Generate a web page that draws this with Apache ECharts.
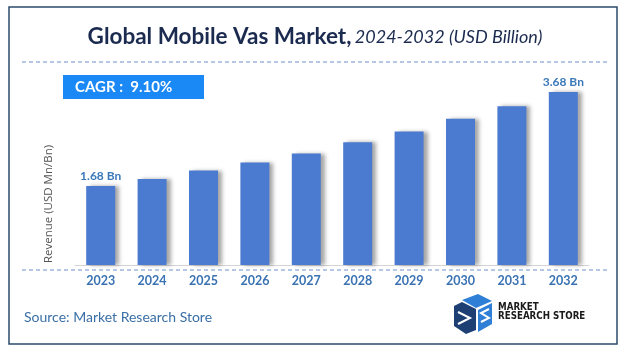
<!DOCTYPE html>
<html>
<head>
<meta charset="utf-8">
<script src="https://cdn.jsdelivr.net/npm/echarts@6/dist/echarts.min.js"></script>
<style>html,body{margin:0;padding:0;background:#fff}#c{width:627px;height:357px}</style>
</head>
<body>
<div id="c"></div>
<script>
var years = ['2023','2024','2025','2026','2027','2028','2029','2030','2031','2032'];
var revenue = [1.68, 1.83, 2.01, 2.18, 2.37, 2.61, 2.84, 3.11, 3.38, 3.68];
var labelText = ['1.68 Bn','','','','','','','','','3.68 Bn'];
var cagrText = 'CAGR :  9.10%';

var chart = echarts.init(document.getElementById('c'));
var FONT = 'Lato, "Noto Sans", sans-serif';
var NARROW = '"Liberation Sans Narrow", "DejaVu Sans Condensed", sans-serif';
chart.setOption({
  animation: false,
  backgroundColor: '#ffffff',
  grid: {left: 75, right: 38, top: 77, bottom: 92},
  xAxis: {
    type: 'category', data: years,
    axisLine: {lineStyle: {color: '#d4d4d4', width: 1}},
    axisTick: {show: false},
    axisLabel: {color: '#3a72b2', fontWeight: 'bold', fontSize: 12.5, fontFamily: FONT, margin: 9}
  },
  yAxis: {type: 'value', min: 0, max: 4, show: false, splitLine: {show: false}},
  series: [{
    type: 'bar', data: revenue, barWidth: 29,
    itemStyle: {color: '#4b7bd0', shadowColor: 'rgba(0,0,0,0.35)', shadowBlur: 4, shadowOffsetX: 4, shadowOffsetY: 0},
    label: {
      show: true, position: 'top', distance: 4,
      color: '#3a78ba', fontWeight: 'bold', fontSize: 12, fontFamily: FONT,
      formatter: function (p) { return labelText[p.dataIndex]; }
    }
  }],
  graphic: [
    {type: 'rect', shape: {x: 9, y: 7, width: 608, height: 337}, style: {fill: 'none', stroke: '#2d4b6e', lineWidth: 1.5}, z: 0},
    {type: 'text', x: 315, y: 37, style: {
      text: '{a|Global Mobile Vas Market,} {b|2024-2032 (USD Billion)}',
      align: 'center', verticalAlign: 'middle',
      rich: {
        a: {fontFamily: FONT, fontWeight: 'bold', fontSize: 22.5, fill: '#1b2a4f'},
        b: {fontFamily: FONT, fontStyle: 'italic', fontSize: 18, fill: '#1b2a4f'}
      }
    }},
    {type: 'line', shape: {x1: 22, y1: 62, x2: 607, y2: 62}, style: {stroke: '#6a92cc', lineWidth: 1, lineDash: [4, 3]}},
    {type: 'rect', shape: {x: 63, y: 75, width: 141, height: 24}, style: {fill: '#1a88f5'}},
    {type: 'text', x: 75, y: 87, style: {text: cagrText, fill: '#ffffff', fontFamily: FONT, fontWeight: 'bold', fontSize: 15, verticalAlign: 'middle'}},
    {type: 'text', x: 49, y: 204, rotation: Math.PI / 2, style: {text: 'Revenue (USD Mn/Bn)', fill: '#555555', fontFamily: '"Open Sans", sans-serif', fontSize: 11.5, align: 'center', verticalAlign: 'middle'}},
    {type: 'line', shape: {x1: 22, y1: 270, x2: 607, y2: 270}, style: {stroke: '#6a92cc', lineWidth: 1, lineDash: [4, 3]}},
    {type: 'text', x: 24, y: 317, style: {text: 'Source: Market Research Store', fill: '#3a6fa6', fontFamily: FONT, fontSize: 14, verticalAlign: 'middle'}},
    // logo icon
    {type: 'polygon', shape: {points: [[462,300],[478,294],[492,301],[476,308]]}, style: {fill: '#2f7fd6'}},
    {type: 'polygon', shape: {points: [[454,306],[462,302],[476,309],[476,330],[466,334],[454,326]]}, style: {fill: '#1d3f73'}},
    {type: 'polygon', shape: {points: [[478,310],[492,303],[492,324],[478,332]]}, style: {fill: '#2f7fd6'}},
    {type: 'polyline', shape: {points: [[458,312],[470,318],[458,324]]}, style: {stroke: '#ffffff', lineWidth: 2, fill: 'none'}},
    {type: 'polyline', shape: {points: [[489,309],[481,313],[489,318],[481,322]]}, style: {stroke: '#ffffff', lineWidth: 2, fill: 'none'}},
    {type: 'text', x: 498, y: 307, scaleX: 0.88, style: {text: 'MARKET', fill: '#1a1a1a', fontFamily: NARROW, fontWeight: 'bold', fontSize: 11, verticalAlign: 'middle'}},
    {type: 'text', x: 498, y: 316, scaleX: 0.88, style: {text: 'RESEARCH STORE', fill: '#1a1a1a', fontFamily: NARROW, fontWeight: 'bold', fontSize: 11, verticalAlign: 'middle'}}
  ]
});
</script>
</body>
</html>
